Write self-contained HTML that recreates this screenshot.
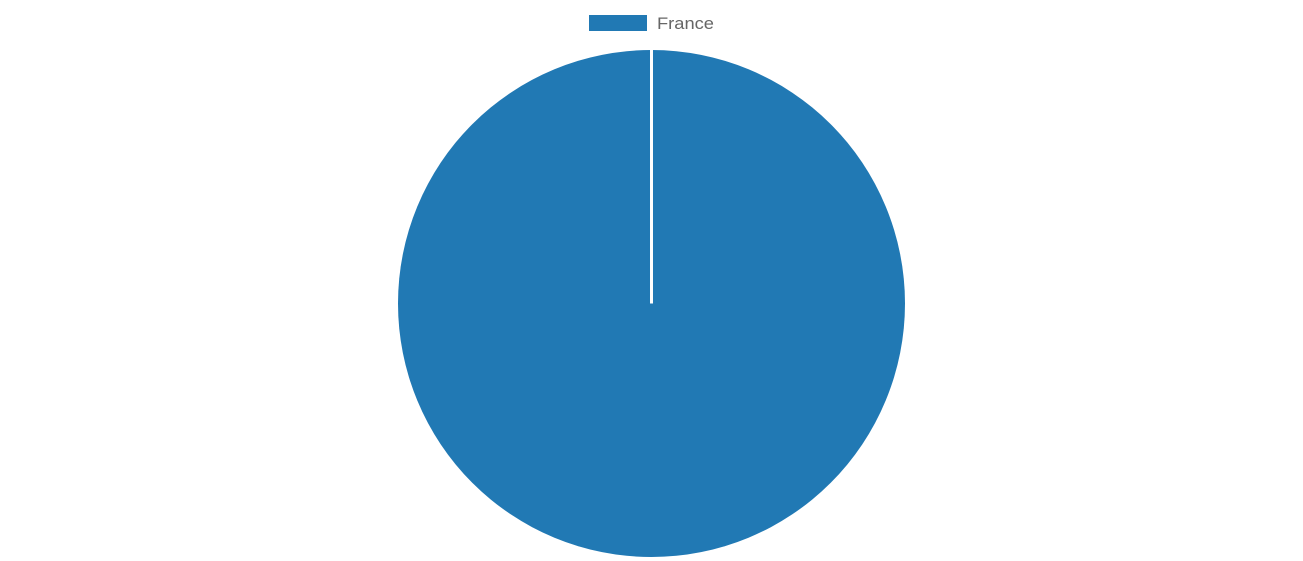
<!DOCTYPE html>
<html>
<head>
<meta charset="utf-8">
<style>
  html, body { margin: 0; padding: 0; background: #fff; }
  body { width: 1303px; height: 561px; overflow: hidden; }
  svg { display: block; }
  text { font-family: "Liberation Sans", Arial, sans-serif; }
</style>
</head>
<body>
<svg id="chart" width="1303" height="561" viewBox="0 0 1303 561" xmlns="http://www.w3.org/2000/svg">
  <g id="legend"></g>
  <g id="slices"></g>
</svg>
<script>
const categories = ["France"];
const values = [100];
const colors = ["#2179b4"];

const svgNS = "http://www.w3.org/2000/svg";
const cx = 651.5, cy = 303.5, r = 253.5;
const slicesG = document.getElementById('slices');
const legendG = document.getElementById('legend');
const total = values.reduce((a, b) => a + b, 0);

let angle = -Math.PI / 2;
values.forEach((v, i) => {
  const sweep = (v / total) * Math.PI * 2;
  let el;
  if (sweep >= Math.PI * 2 - 1e-9) {
    el = document.createElementNS(svgNS, 'g');
    const c = document.createElementNS(svgNS, 'circle');
    c.setAttribute('cx', cx); c.setAttribute('cy', cy); c.setAttribute('r', r);
    c.setAttribute('fill', colors[i % colors.length]);
    el.appendChild(c);
    const ln = document.createElementNS(svgNS, 'line');
    ln.setAttribute('x1', cx); ln.setAttribute('y1', cy);
    ln.setAttribute('x2', cx + r * Math.cos(angle)); ln.setAttribute('y2', cy + r * Math.sin(angle));
    ln.setAttribute('stroke', '#fff'); ln.setAttribute('stroke-width', '3');
    el.appendChild(ln);
  } else {
    const a2 = angle + sweep;
    const x1 = cx + r * Math.cos(angle), y1 = cy + r * Math.sin(angle);
    const x2 = cx + r * Math.cos(a2), y2 = cy + r * Math.sin(a2);
    el = document.createElementNS(svgNS, 'path');
    el.setAttribute('d', `M${cx},${cy} L${x1},${y1} A${r},${r} 0 ${sweep > Math.PI ? 1 : 0} 1 ${x2},${y2} Z`);
    el.setAttribute('fill', colors[i % colors.length]);
    el.setAttribute('stroke', '#fff'); el.setAttribute('stroke-width', '2');
  }
  
  
  slicesG.appendChild(el);
  angle += sweep;
});

categories.forEach((cat, i) => {
  const g = document.createElementNS(svgNS, 'g');
  
  
  const box = document.createElementNS(svgNS, 'rect');
  box.setAttribute('x', 589); box.setAttribute('y', 15);
  box.setAttribute('width', 58); box.setAttribute('height', 16);
  box.setAttribute('fill', colors[i % colors.length]);
  
  
  g.appendChild(box);
  const t = document.createElementNS(svgNS, 'text');
  t.setAttribute('x', 657); t.setAttribute('y', 29);
  t.setAttribute('font-size', '17'); t.setAttribute('fill', '#666');
  t.setAttribute('textLength', '57');
  t.setAttribute('lengthAdjust', 'spacingAndGlyphs');
  
  
  t.textContent = cat;
  g.appendChild(t);
  legendG.appendChild(g);
});
</script>
</body>
</html>
